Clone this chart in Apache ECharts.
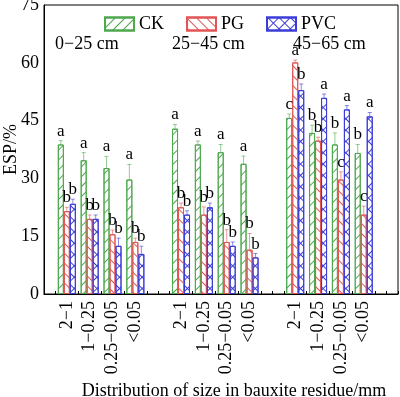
<!DOCTYPE html>
<html><head><meta charset="utf-8">
<script src="https://cdn.jsdelivr.net/npm/echarts@6/dist/echarts.min.js"></script>
<style>html,body{margin:0;padding:0;background:#fff}#c{width:400px;height:397px}</style>
</head><body><div id="c"></div>
<script>
const sizeLabels = ['2\u22121','1\u22120.25','0.25\u22120.05','<0.05'];
const depthLabels = ['0\u221225 cm','25\u221245 cm','45\u221265 cm'];
// positions on the x scale (units), 0..15.5
const xPositions = [1,2,3,4, 6,7,8,9, 11,12,13,14];
const ckValues  = [38.8,34.7,32.7,29.7, 42.9,38.8,36.8,33.8, 45.7,41.8,38.8,36.6];
const pgValues  = [21.5,19.5,15.5,13.5, 22.5,20.6,13.5,11.5, 60.1,39.8,29.7,20.6];
const pvcValues = [23.4,19.5,12.5,10.4, 20.6,22.5,12.5,9.5, 52.9,50.9,47.9,46.1];
const ckErr  = [1,2,3,3.9, 1.1,0.9,2,2, 1,2,3,2.2];
const pgErr  = [1,1,1.1,1, 1.1,2,3.2,4.2, 0.6,0.9,2,2.2];
const pvcErr = [1.2,1,2,2, 1,1.1,1,1, 1.6,1,1,1];
const ckLetters  = ['a','a','a','a', 'a','a','a','a', 'c','b','b','b'];
const pgLetters  = ['b','b','b','b', 'b','b','b','b', 'a','b','c','c'];
const pvcLetters = ['b','b','b','b', 'b','b','b','b', 'b','a','a','a'];
const yTicks = [0,15,30,45,60,75];

const FONT = 'Liberation Serif';
const FS = 18;
// half-unit category slots: index k <-> position k/2
const N_SLOTS = 32;
const slotIndex = xPositions.map(x => x * 2);
const categories = [];
for (let k = 0; k < N_SLOTS; k++) categories.push('');
slotIndex.forEach((k, i) => { categories[k] = sizeLabels[i % 4]; });

const colors = { CK:'#4ea84e', PG:'#e25555', PVC:'#3c3cd6' };

function lineDecal(color, rot){
  return { symbol:'rect', symbolSize:1, dashArrayX:[1,0], dashArrayY:[1,6], rotation:rot, color:color };
}
function crossDecal(color){
  return { symbol:'rect', symbolSize:1, dashArrayX:[[8,0],[1,7],[1,7],[1,7],[1,7],[1,7],[1,7],[1,7]], dashArrayY:[1,0], rotation:Math.PI/4, color:color };
}

function slotData(vals){
  const arr = categories.map(() => null);
  slotIndex.forEach((k, i) => { arr[k] = vals[i]; });
  return arr;
}

function barSeries(name, vals, decal){
  return {
    name:name, type:'bar', barWidth:6, barGap:'0%', z:2,
    data: slotData(vals),
    itemStyle:{ color:'#ffffff', borderColor:colors[name], borderWidth:1, decal:decal },
    emphasis:{disabled:true}
  };
}
function errSeries(name, vals, errs, letters, off){
  return {
    type:'custom', z:3, silent:true,
    data: slotIndex.map((k,i)=>[k, vals[i], errs[i], i]),
    encode:{x:0, y:1},
    renderItem:function(params, api){
      const p = api.coord([api.value(0), api.value(1)]);
      const t = api.coord([api.value(0), api.value(1)+api.value(2)]);
      const cx = p[0] + off;
      const col = colors[name];
      return { type:'group', children:[
        { type:'line', shape:{x1:cx, y1:p[1], x2:cx, y2:t[1]}, style:{stroke:col, lineWidth:1, opacity:0.6} },
        { type:'line', shape:{x1:cx-2, y1:t[1], x2:cx+2, y2:t[1]}, style:{stroke:col, lineWidth:1, opacity:0.6} },
        { type:'text', style:{ text: letters[api.value(3)], x:cx, y:t[1]-1, textAlign:'center', textVerticalAlign:'bottom', font:'17px "'+FONT+'"', fill:'#000' } }
      ]};
    }
  };
}

const depthTitleLeft = [55, 172, 293];

const chart = echarts.init(document.getElementById('c'), null, {renderer:'canvas'});
chart.setOption({
  animation:false,
  backgroundColor:'#fff',
  grid:{ left:44, right:2, top:5, bottom:103, show:true, borderColor:'#000', borderWidth:1, outerBoundsMode:'none', containLabel:false },
  title: depthLabels.map((t, i) => ({
    text:t, left:depthTitleLeft[i], top:35, padding:0,
    textStyle:{ fontFamily:FONT, fontSize:FS, fontWeight:'normal', color:'#000' }
  })),
  legend:{
    data:['CK','PG','PVC'], top:10, left:99, itemWidth:29, itemHeight:13, itemGap:22, icon:'rect',
    textStyle:{ fontFamily:FONT, fontSize:FS, color:'#000' }
  },
  xAxis:{
    type:'category', data:categories, boundaryGap:false,
    name:'Distribution of size in bauxite residue/mm', nameLocation:'middle', nameGap:80,
    nameTextStyle:{ fontFamily:FONT, fontSize:FS, color:'#000', padding:[0,0,0,26] },
    axisLine:{ lineStyle:{ color:'#000', width:1 } },
    axisTick:{ inside:true, length:3, interval:0, lineStyle:{color:'#000'} },
    splitLine:{ show:false },
    axisLabel:{ interval:0, rotate:90, margin:7, fontFamily:FONT, fontSize:FS, color:'#000' }
  },
  yAxis:{
    type:'value', min:yTicks[0], max:yTicks[yTicks.length-1], interval:15,
    name:'ESP/%', nameLocation:'middle', nameGap:24, nameMoveOverlap:false,
    nameTextStyle:{ fontFamily:FONT, fontSize:FS, color:'#000' },
    axisLine:{ show:true, lineStyle:{ color:'#000', width:1 } },
    axisTick:{ inside:true, length:5, lineStyle:{color:'#000'} },
    splitLine:{ show:false },
    axisLabel:{ margin:5, fontFamily:FONT, fontSize:FS, color:'#000' }
  },
  series:[
    barSeries('CK', ckValues, lineDecal(colors.CK, -Math.PI/4)),
    barSeries('PG', pgValues, lineDecal(colors.PG, Math.PI/4)),
    barSeries('PVC', pvcValues, crossDecal(colors.PVC)),
    errSeries('CK', ckValues, ckErr, ckLetters, -6),
    errSeries('PG', pgValues, pgErr, pgLetters, 0),
    errSeries('PVC', pvcValues, pvcErr, pvcLetters, 6)
  ]
});
</script></body></html>
